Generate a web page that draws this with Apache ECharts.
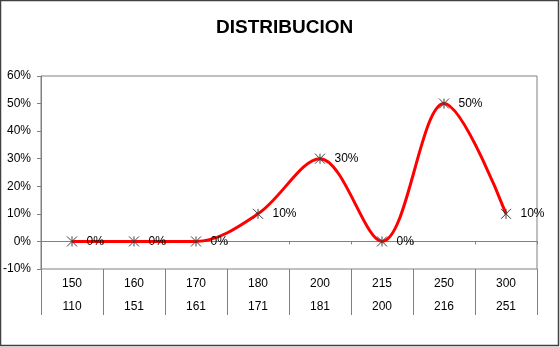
<!DOCTYPE html>
<html>
<head>
<meta charset="utf-8">
<script src="https://cdn.jsdelivr.net/npm/echarts@6/dist/echarts.min.js"></script>
<style>
html,body{margin:0;padding:0;background:#fff;}
#c{width:560px;height:347px;}
</style>
</head>
<body>
<div id="c"></div>
<script>
const titleText = 'DISTRIBUCION';
const catTop = ['150','160','170','180','200','215','250','300'];
const catBottom = ['110','151','161','171','181','200','216','251'];
const values = [0, 0, 0, 0.10, 0.30, 0, 0.50, 0.10];
const yTicks = { min: -0.1, max: 0.6, interval: 0.1 };

const FONT = '"Liberation Sans", Arial, sans-serif';
const pct = v => Math.round(v * 100) + '%';

const chart = echarts.init(document.getElementById('c'), null, { renderer: 'canvas' });
chart.setOption({
  animation: false,
  backgroundColor: '#fff',
  textStyle: { fontFamily: FONT },
  title: {
    text: titleText,
    left: 216,
    top: 18,
    padding: 0,
    textStyle: { fontFamily: FONT, fontSize: 19, fontWeight: 'bold', color: '#000' }
  },
  graphic: [{
    type: 'rect',
    shape: { x: 0.5, y: 0.5, width: 558, height: 345 },
    style: { fill: 'none', stroke: '#404040', lineWidth: 1.5 },
    silent: true
  }],
  grid: [
    { left: 41, top: 76, width: 496, height: 193, show: true, borderColor: '#808080', borderWidth: 1, backgroundColor: 'transparent' },
    { left: 41, top: 269, width: 496, height: 46, show: false }
  ],
  xAxis: [
    {
      type: 'category', gridIndex: 0, data: catTop, boundaryGap: true,
      axisLine: { show: true, onZero: true, lineStyle: { color: '#808080', width: 1 } },
      axisTick: { show: true, length: 3, lineStyle: { color: '#808080' } },
      axisLabel: { show: false },
      splitLine: { show: false }
    },
    {
      type: 'category', gridIndex: 1, data: catTop, boundaryGap: true, position: 'top',
      axisLine: { show: false },
      axisTick: { show: false },
      axisLabel: {
        show: true, inside: true, margin: 3, color: '#000', fontSize: 12, fontFamily: FONT,
        lineHeight: 23, verticalAlign: 'top',
        formatter: (v, i) => catTop[i] + '\n' + catBottom[i]
      },
      splitLine: { show: true, lineStyle: { color: '#808080', width: 1 } }
    }
  ],
  yAxis: [
    {
      type: 'value', gridIndex: 0, min: yTicks.min, max: yTicks.max, interval: yTicks.interval,
      axisLine: { show: true, lineStyle: { color: '#808080' } },
      axisTick: { show: true, length: 4, lineStyle: { color: '#808080' } },
      axisLabel: { color: '#000', fontSize: 12, fontFamily: FONT, margin: 10, formatter: pct },
      splitLine: { show: false }
    },
    {
      type: 'value', gridIndex: 1, min: 0, max: 1,
      axisLine: { show: false }, axisTick: { show: false }, axisLabel: { show: false }, splitLine: { show: false }
    }
  ],
  series: [{
    type: 'line',
    xAxisIndex: 0, yAxisIndex: 0,
    data: values,
    smooth: 0.34,
    lineStyle: { color: '#ff0000', width: 3 },
    symbol: 'path://M0,0L10,10M10,0L0,10M5,0L5,10',
    symbolSize: 10,
    itemStyle: { color: 'rgba(0,0,0,0)', borderColor: '#404040', borderWidth: 1 },
    label: {
      show: true, position: 'right', distance: 9, color: '#000', fontSize: 12, fontFamily: FONT,
      formatter: p => pct(p.value)
    },
    z: 3
  }]
});
</script>
</body>
</html>
